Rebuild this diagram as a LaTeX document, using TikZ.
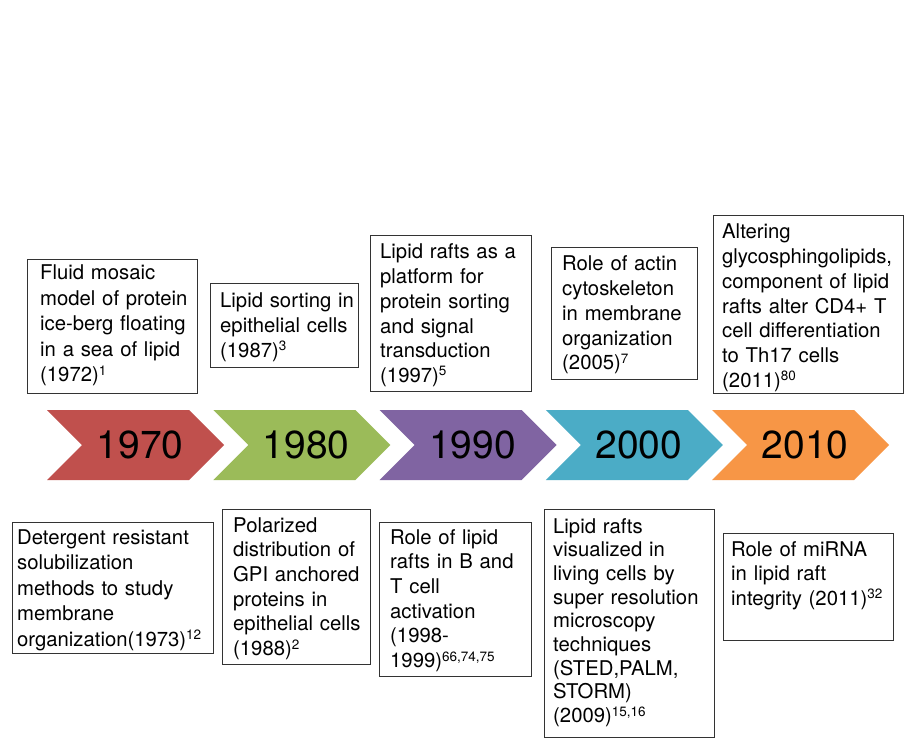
\documentclass[tikz,border=0pt]{standalone}
\usepackage{fontspec}
\setmainfont{TeX Gyre Heros}
\definecolor{cred}{HTML}{C0504D}
\definecolor{cgreen}{HTML}{9BBB59}
\definecolor{cpurple}{HTML}{8064A2}
\definecolor{cblue}{HTML}{4BACC6}
\definecolor{corange}{HTML}{F79646}
\newcommand\supr[1]{\raisebox{6.5pt}{\fontsize{13.5}{13.5}\selectfont #1}}
\tikzset{
  evbox/.style={draw=black!80, line width=1pt, inner sep=0pt, anchor=north west},
  evtxt/.style={anchor=base west, inner sep=0pt, text width=200pt, align=left,
    font=\fontsize{20.3}{24.7}\selectfont},
  yeartxt/.style={anchor=base, inner sep=0pt, font=\fontsize{39}{39}\selectfont},
}
\begin{document}
\begin{tikzpicture}[x=1pt,y=1pt]
\useasboundingbox[fill=white] (0,0) rectangle (905,-743);
% chevrons
\foreach \i/\c/\yr in {0/cred/1970,1/cgreen/1980,2/cpurple/1990,3/cblue/2000,4/corange/2010}{
  \pgfmathsetmacro\L{47+166.3*\i}
  \fill[\c] (\L,-410) -- (\L+142,-410) -- (\L+177,-445) -- (\L+142,-480) -- (\L,-480) -- (\L+35,-445) -- cycle;
  \node[yeartxt] (y\i) at (\L+93,-458) {\yr};
}
% top boxes
\node[evbox, minimum width=170, minimum height=134] (b1) at (27,-259) {};
\node[evtxt, font=\fontsize{20.3}{25.4}\selectfont] (t1) at (40,-280) {Fluid mosaic\\model of protein\\ice-berg floating\\in a sea of lipid\\(1972)\supr{1}};
\node[evbox, minimum width=148, minimum height=84] (b2) at (210,-283) {};
\node[evtxt] (t2) at (220,-308) {Lipid sorting in\\epithelial cells\\(1987)\supr{3}};
\node[evbox, minimum width=161, minimum height=156] (b3) at (370,-235) {};
\node[evtxt] (t3) at (380,-259) {Lipid rafts as a\\platform for\\protein sorting\\and signal\\transduction\\(1997)\supr{5}};
\node[evbox, minimum width=146, minimum height=132] (b4) at (551,-247) {};
\node[evtxt] (t4) at (562,-271) {Role of actin\\cytoskeleton\\in membrane\\organization\\(2005)\supr{7}};
\node[evbox, minimum width=190, minimum height=178] (b5) at (713,-215) {};
\node[evtxt] (t5) at (722,-239) {Altering\\glycosphingolipids,\\component of lipid\\rafts alter CD4+ T\\cell differentiation\\to Th17 cells\\(2011)\supr{80}};
% bottom boxes
\node[evbox, minimum width=201, minimum height=131] (b6) at (12,-522) {};
\node[evtxt, font=\fontsize{20.3}{25.5}\selectfont] (t6) at (17,-544) {Detergent resistant\\solubilization\\methods to study\\membrane\\organization(1973)\supr{12}};
\node[evbox, minimum width=148, minimum height=155] (b7) at (222,-509) {};
\node[evtxt] (t7) at (233,-532) {Polarized\\distribution of\\GPI anchored\\proteins in\\epithelial cells\\(1988)\supr{2}};
\node[evbox, minimum width=152, minimum height=154] (b8) at (379,-522) {};
\node[evtxt] (t8) at (390,-544) {Role of lipid\\rafts in B and\\T cell\\activation\\(1998-\\1999)\supr{66,74,75}};
\node[evbox, minimum width=170, minimum height=228] (b9) at (544,-509) {};
\node[evtxt, font=\fontsize{20.3}{23.7}\selectfont] (t9) at (553,-533) {Lipid rafts\\visualized in\\living cells by\\super resolution\\microscopy\\techniques\\(STED,PALM,\\STORM)\\(2009)\supr{15,16}};
\node[evbox, minimum width=170, minimum height=107] (b10) at (723,-533) {};
\node[evtxt] (t10) at (731,-556) {Role of miRNA\\in lipid raft\\integrity (2011)\supr{32}};
\end{tikzpicture}
\end{document}
